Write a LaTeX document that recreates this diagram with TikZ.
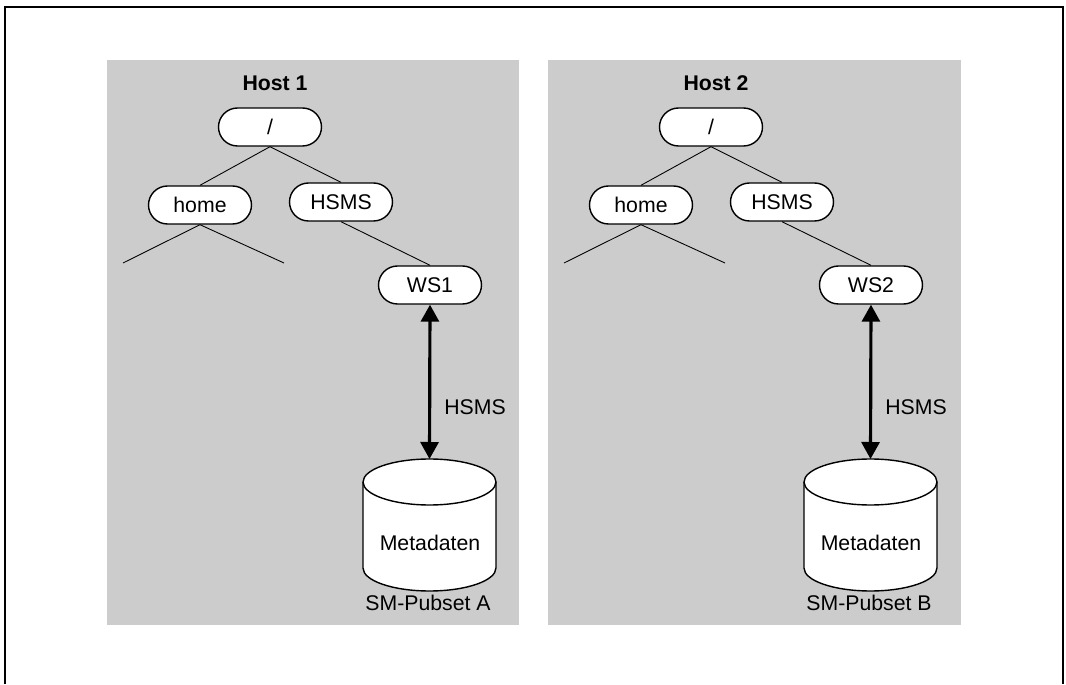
\documentclass[tikz,border=0pt]{standalone}
\usepackage{fontspec}
\setmainfont{Liberation Sans}
\usetikzlibrary{arrows.meta, positioning, shapes.misc}
\definecolor{panelgray}{RGB}{204,204,204}

\begin{document}
\begin{tikzpicture}[
		x=0.02cm, y=0.02cm,
		every node/.style={font=\fontsize{12.1}{14}\selectfont},
		hostlabel/.style={font=\fontsize{12.1}{14}\selectfont\bfseries},
		dirbox/.style={draw, rounded rectangle, fill=white, line width=0.8pt, minimum width=2.06cm, minimum height=0.76cm, inner sep=0pt},
		branch/.style={line width=0.5pt},
		dbarr/.style={{Triangle[length=0.34cm,width=0.36cm]}-{Triangle[length=0.34cm,width=0.36cm]}, line width=1.8pt},
		cyl/.style={draw, fill=white, line width=0.8pt}
	]
		\useasboundingbox (0,0) rectangle (1066,684);
		\draw[line width=0.85pt] (5,0) -- (5,677) -- (1063,677) -- (1063,0);
		\fill[panelgray] (107,59) rectangle (519,624);
		\fill[panelgray] (548,59) rectangle (961,624);
		% Host 1
		\node[hostlabel] (host1) at (275,601) {Host 1};
		\node[dirbox] (root1) at (270,557) {/};
		\node[dirbox] (home1) at (200,479) {home};
		\node[dirbox] (hsms1) at (341,482) {HSMS};
		\node[dirbox] (ws1) at (430,399) {WS1};
		\coordinate (leafa1) at (123,421);
		\coordinate (leafb1) at (284,421);
		\draw[branch] (root1.south) -- (home1.north);
		\draw[branch] (root1.south) -- (hsms1.north);
		\draw[branch] (home1.south) -- (leafa1);
		\draw[branch] (home1.south) -- (leafb1);
		\draw[branch] (hsms1.south) -- (ws1.north);
		\path[cyl] (363,202) -- (363,116) arc[start angle=180, end angle=360, x radius=1.33cm, y radius=0.46cm] -- (496,202) arc[start angle=0, end angle=180, x radius=1.33cm, y radius=0.46cm] -- cycle;
		\draw[line width=0.8pt] (363,202) arc[start angle=180, end angle=360, x radius=1.33cm, y radius=0.46cm];
		\coordinate (dbtop1) at (429.5,225);
		\node (meta1) at (430,141) {Metadaten};
		\node (pub1) at (428,81) {SM-Pubset A};
		\draw[dbarr] (ws1.south) -- (dbtop1);
		\node (proto1) at (475,277) {HSMS};
		% Host 2
		\node[hostlabel] (host2) at (716,601) {Host 2};
		\node[dirbox] (root2) at (711,557) {/};
		\node[dirbox] (home2) at (641,479) {home};
		\node[dirbox] (hsms2) at (782,482) {HSMS};
		\node[dirbox] (ws2) at (871,399) {WS2};
		\coordinate (leafa2) at (564,421);
		\coordinate (leafb2) at (725,421);
		\draw[branch] (root2.south) -- (home2.north);
		\draw[branch] (root2.south) -- (hsms2.north);
		\draw[branch] (home2.south) -- (leafa2);
		\draw[branch] (home2.south) -- (leafb2);
		\draw[branch] (hsms2.south) -- (ws2.north);
		\path[cyl] (804,202) -- (804,116) arc[start angle=180, end angle=360, x radius=1.33cm, y radius=0.46cm] -- (937,202) arc[start angle=0, end angle=180, x radius=1.33cm, y radius=0.46cm] -- cycle;
		\draw[line width=0.8pt] (804,202) arc[start angle=180, end angle=360, x radius=1.33cm, y radius=0.46cm];
		\coordinate (dbtop2) at (870.5,225);
		\node (meta2) at (871,141) {Metadaten};
		\node (pub2) at (869,81) {SM-Pubset B};
		\draw[dbarr] (ws2.south) -- (dbtop2);
		\node (proto2) at (916,277) {HSMS};
	\end{tikzpicture}
\end{document}
